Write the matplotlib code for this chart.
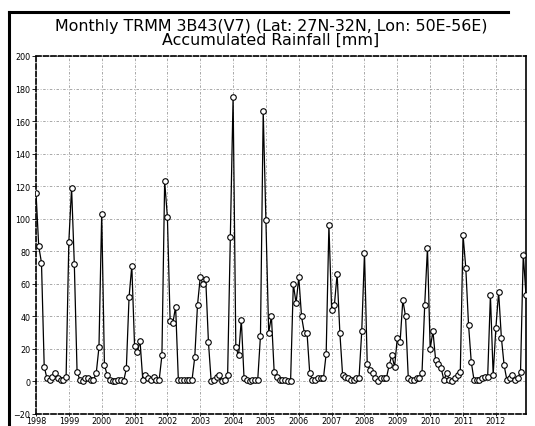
import numpy as np
import matplotlib
matplotlib.use("Agg")
import matplotlib.pyplot as plt
from matplotlib.lines import Line2D

# monthly accumulated rainfall [mm], Jan..Dec per year
years = list(range(1998, 2013))
rain = {
    1998: [116, 83, 73, 9, 2, 1, 3, 5, 2, 1, 1, 3],
    1999: [86, 119, 72, 6, 1, 0, 2, 2, 1, 1, 5, 21],
    2000: [103, 10, 4, 1, 0, 0, 1, 1, 0, 8, 52, 71],
    2001: [22, 18, 25, 1, 4, 2, 1, 3, 1, 1, 16, 123],
    2002: [101, 37, 36, 46, 1, 1, 1, 1, 1, 1, 15, 47],
    2003: [64, 60, 63, 24, 0, 1, 3, 4, 0, 1, 4, 89],
    2004: [175, 21, 16, 38, 2, 1, 0, 1, 1, 1, 28, 166],
    2005: [99, 30, 40, 6, 3, 1, 1, 1, 0, 0, 60, 48],
    2006: [64, 40, 30, 30, 5, 1, 1, 2, 2, 2, 17, 96],
    2007: [44, 47, 66, 30, 4, 3, 2, 1, 1, 2, 2, 31],
    2008: [79, 11, 7, 5, 2, 0, 2, 2, 2, 10, 16, 9],
    2009: [27, 24, 50, 40, 2, 1, 1, 2, 2, 5, 47, 82],
    2010: [20, 31, 13, 11, 8, 1, 5, 1, 0, 2, 4, 6],
    2011: [90, 70, 35, 12, 1, 1, 1, 2, 3, 3, 53, 4],
    2012: [33, 55, 27, 10, 1, 2, 4, 1, 2, 6, 78, 53],
}
y_ticks = list(range(-20, 201, 20))
title = "Monthly TRMM 3B43(V7) (Lat: 27N-32N, Lon: 50E-56E)\nAccumulated Rainfall [mm]"

t = []
vals = []
for yr in years:
    for m, v in enumerate(rain[yr]):
        t.append(yr + m / 12.0)
        vals.append(v)

fig = plt.figure(figsize=(5.35, 4.27), dpi=100)
ax = fig.add_axes([36 / 535, 1 - 415 / 427, 490 / 535, (415 - 57) / 427])

ax.plot(t, vals, color="black", lw=0.9, marker="o", ms=4.0,
        mfc="white", mec="black", mew=0.8, zorder=3)

ax.set_xlim(t[0], t[-1])
ax.set_ylim(-20, 200)
ax.set_yticks(y_ticks)
ax.set_xticks(years)
ax.set_xticklabels([str(y) for y in years], fontsize=5.8)
ax.tick_params(axis="y", labelsize=5.8, length=3, width=0.6, pad=1)
ax.tick_params(axis="x", length=1.5, width=0.6, pad=0.3, direction="out")
ax.grid(True, color="#9a9a9a", lw=0.6, linestyle=(0, (3, 2, 1, 2)))

for side in ["top", "bottom", "left"]:
    ax.spines[side].set_linestyle((0, (3, 1.5)))
    ax.spines[side].set_linewidth(1.2)
ax.spines["right"].set_linewidth(1.2)

# outer frame of the picture
fig.add_artist(Line2D([9 / 535, 9 / 535], [0, 1 - 13 / 427], color="black", lw=2.2))
fig.add_artist(Line2D([9 / 535, 508 / 535], [1 - 13 / 427, 1 - 13 / 427], color="black", lw=2.2))

fig.text(271 / 535, 1 - 33.5 / 427, title, ha="center", va="center",
         fontsize=11.4, linespacing=0.95)

fig.savefig("out.png", dpi=100)
